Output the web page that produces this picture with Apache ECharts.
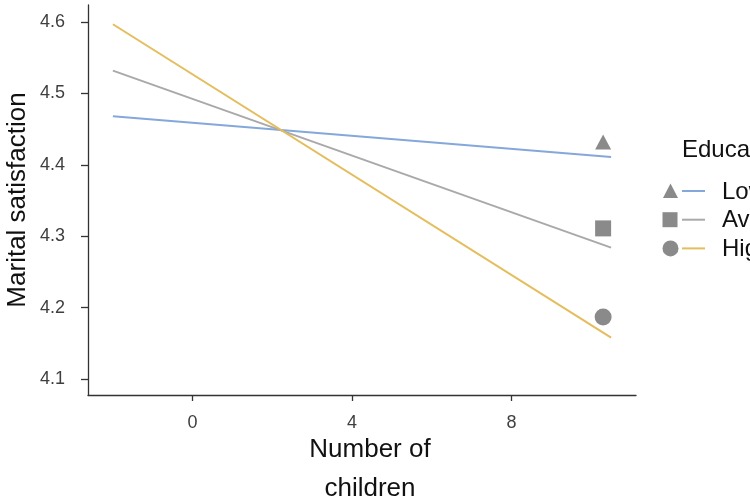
<!DOCTYPE html>
<html>
<head>
<meta charset="utf-8">
<script src="https://cdn.jsdelivr.net/npm/echarts@6/dist/echarts.min.js"></script>
<style>html,body{margin:0;padding:0;background:#fff}#chart{width:750px;height:500px}</style>
</head>
<body>
<div id="chart"></div>
<script>
// Data
const lineX = [-2, 10.5];
const lowLine = [4.468, 4.411];
const avgLine = [4.532, 4.284];
const highLine = [4.597, 4.158];
const markerX = 10.3;
const markerLow = [4.432];
const markerAvg = [4.311];
const markerHigh = [4.187];
const xTicks = [0, 4, 8];
const yTicks = [4.1, 4.2, 4.3, 4.4, 4.5, 4.6];
const groups = ['Low', 'Average', 'High'];
const legendTitle = 'Education';

const colors = { Low: '#84a8da', Average: '#a9a9a9', High: '#e4bd5c' };
const markerColor = '#8a8a8a';
const font = 'Liberation Sans, Arial, Helvetica, sans-serif';

const pairs = (xs, ys) => xs.map((x, i) => [x, ys[i]]);

const chart = echarts.init(document.getElementById('chart'), null, { renderer: 'canvas' });

const legendTop = 191, legendStep = 28.7;
const graphics = [{
  type: 'text', x: 682, y: 150,
  style: { text: legendTitle, fontSize: 24, fontFamily: font, fill: '#111', verticalAlign: 'middle' }
}];
groups.forEach((g, i) => {
  const cy = legendTop + i * legendStep;
  let shape;
  if (i === 0) shape = { type: 'polygon', shape: { points: [[670.5, cy - 7.5], [663, cy + 7], [678, cy + 7]] }, style: { fill: markerColor } };
  else if (i === 1) shape = { type: 'rect', shape: { x: 662.5, y: cy - 7.5, width: 15, height: 15 }, style: { fill: markerColor } };
  else shape = { type: 'circle', shape: { cx: 670.5, cy: cy, r: 8 }, style: { fill: markerColor } };
  graphics.push(shape);
  graphics.push({ type: 'line', shape: { x1: 682, y1: cy, x2: 705, y2: cy }, style: { stroke: colors[g], lineWidth: 2 } });
  graphics.push({ type: 'text', x: 722, y: cy + 1, style: { text: g, fontSize: 24, fontFamily: font, fill: '#111', verticalAlign: 'middle' } });
});

chart.setOption({
  backgroundColor: '#ffffff',
  animation: false,
  grid: { left: 88, right: 114, top: 5, bottom: 105, containLabel: false, outerBoundsMode: 'none' },
  xAxis: {
    type: 'value', min: -2.625, max: 11.125,
    name: 'Number of\nchildren', nameLocation: 'middle', nameGap: 35, nameMoveOverlap: false,
    nameTextStyle: { fontSize: 26, fontFamily: font, color: '#111', lineHeight: 39, verticalAlign: 'top', padding: [0, 0, 0, 16] },
    axisLine: { show: true, onZero: false, lineStyle: { color: '#333', width: 1.3 } },
    axisTick: { show: true, length: 6, lineStyle: { color: '#333', width: 1.3 }, customValues: xTicks },
    axisLabel: { fontSize: 18, fontFamily: font, color: '#3f3f3f', margin: 19, customValues: xTicks },
    splitLine: { show: false }
  },
  yAxis: {
    type: 'value', min: 4.0776, max: 4.624,
    name: 'Marital satisfaction', nameLocation: 'middle', nameGap: 57, nameRotate: 90, nameMoveOverlap: false,
    nameTextStyle: { fontSize: 26, fontFamily: font, color: '#111' },
    axisLine: { show: true, onZero: false, lineStyle: { color: '#333', width: 1.3 } },
    axisTick: { show: true, length: 7, lineStyle: { color: '#333', width: 1.3 }, customValues: yTicks },
    axisLabel: { fontSize: 18, fontFamily: font, color: '#3f3f3f', margin: 23, customValues: yTicks, formatter: v => v.toFixed(1) },
    splitLine: { show: false }
  },
  series: [
    { name: 'Low', type: 'line', data: pairs(lineX, lowLine), symbol: 'none', lineStyle: { color: colors.Low, width: 2 } },
    { name: 'Average', type: 'line', data: pairs(lineX, avgLine), symbol: 'none', lineStyle: { color: colors.Average, width: 2 } },
    { name: 'High', type: 'line', data: pairs(lineX, highLine), symbol: 'none', lineStyle: { color: colors.High, width: 2 } },
    { name: 'Low marker', type: 'scatter', data: markerLow.map(v => [markerX, v]), symbol: 'triangle', symbolSize: [16, 15], itemStyle: { color: markerColor, opacity: 1 } },
    { name: 'Average marker', type: 'scatter', data: markerAvg.map(v => [markerX, v]), symbol: 'rect', symbolSize: 16, itemStyle: { color: markerColor, opacity: 1 } },
    { name: 'High marker', type: 'scatter', data: markerHigh.map(v => [markerX, v]), symbol: 'circle', symbolSize: 17, itemStyle: { color: markerColor, opacity: 1 } }
  ],
  graphic: graphics
});
</script>
</body>
</html>
